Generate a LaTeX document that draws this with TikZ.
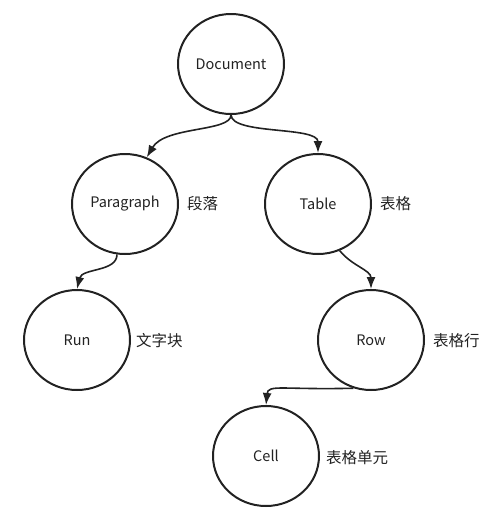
\documentclass[tikz,border=0pt]{standalone}
\usepackage{fontspec}
\setmainfont{Noto Sans CJK SC}
\usetikzlibrary{shapes.geometric,arrows.meta}
\definecolor{ink}{HTML}{222222}
\tikzset{
  circ/.style={ellipse,draw=ink,line width=2pt,minimum width=106pt,minimum height=100pt,inner sep=0pt,font=\fontsize{14.5}{16}\selectfont,text=ink},
  lbl/.style={anchor=west,inner sep=0pt,font=\fontsize{15.5}{17}\selectfont,text=ink},
  conn/.style={draw=ink,line width=1.6pt,-{Latex[length=12pt,width=9pt]}}
}
\begin{document}
\begin{tikzpicture}[x=1pt,y=-1pt]
\useasboundingbox (0,0) rectangle (493,520);
\node[circ] (doc) at (231,64) {Document};
\node[circ] (para) at (125,204) {Paragraph};
\node[circ] (table) at (318,204) {Table};
\node[circ] (run) at (77,340) {Run};
\node[circ] (row) at (371,340) {Row};
\node[circ] (cell) at (266,456) {Cell};
\node[lbl] (lpara) at (187,204) {段落};
\node[lbl] (ltable) at (380,204) {表格};
\node[lbl] (lrun) at (136,341) {文字块};
\node[lbl] (lrow) at (433,341) {表格行};
\node[lbl] (lcell) at (326,458) {表格单元};
\draw[conn] (doc.south) .. controls (231,132) and (165,126) .. (para.65);
\draw[conn] (doc.south) .. controls (232,135) and (318,126) .. (table.north);
\draw[conn] (para.-99) .. controls (117,272) and (82,268) .. (run.north);
\draw[conn] (table.-65) .. controls (352,266) and (371,270) .. (row.north);
\draw[conn] (row.-110) .. controls (282,390) and (268,384) .. (cell.north);
\end{tikzpicture}
\end{document}
